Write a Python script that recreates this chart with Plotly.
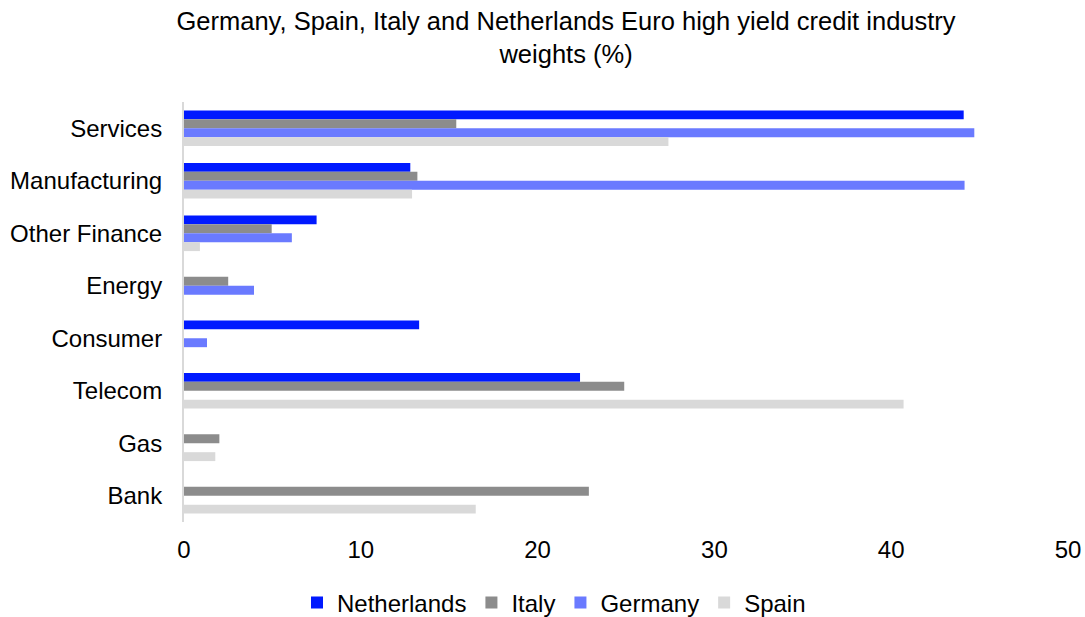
import plotly.graph_objects as go

categories = ["Services", "Manufacturing", "Other Finance", "Energy", "Consumer", "Telecom", "Gas", "Bank"]
netherlands = [44.1, 12.8, 7.5, None, 13.3, 22.4, None, None]
italy = [15.4, 13.2, 4.96, 2.5, None, 24.9, 2.0, 22.9]
germany = [44.7, 44.15, 6.1, 3.96, 1.3, None, None, None]
spain = [27.4, 12.9, 0.9, None, None, 40.7, 1.77, 16.5]
x_ticks = [0, 10, 20, 30, 40, 50]

series = [
    ("Netherlands", netherlands, "#0019FF"),
    ("Italy", italy, "#8C8C8C"),
    ("Germany", germany, "#6A7AFF"),
    ("Spain", spain, "#D9D9D9"),
]

fig = go.Figure()
for name, vals, color in series:
    fig.add_trace(go.Bar(
        y=categories, x=vals, name=name, orientation="h",
        marker=dict(color=color, line=dict(width=0)),
    ))

fig.update_layout(
    width=1085, height=617,
    paper_bgcolor="white", plot_bgcolor="white",
    font=dict(family="Liberation Sans, Arial, sans-serif", size=24, color="#000000"),
    title=dict(
        text="Germany, Spain, Italy and Netherlands Euro high yield credit industry<br>weights (%)",
        x=0.5217, xanchor="center", y=0.951, yanchor="top",
        font=dict(size=25.5),
    ),
    barmode="group", bargap=0.32, bargroupgap=0,
    margin=dict(l=184, r=17, t=102, b=95),
    showlegend=True,
    legend=dict(orientation="h", xref="container", x=0.5106, xanchor="center",
                yref="container", y=0.0227, yanchor="middle",
                font=dict(size=24), traceorder="normal", itemwidth=30),
    xaxis=dict(range=[0, 50], tickvals=x_ticks, showgrid=False, zeroline=False,
               showline=False, ticks="", ticklen=0, automargin=False, ticklabelstandoff=11),
    yaxis=dict(autorange="reversed", showgrid=False, showline=True, automargin=False,
               linecolor="#D9D9D9", linewidth=2, ticks="", ticklabelstandoff=15),
)

fig.write_html("out.html", config={"displayModeBar": False},
               post_script="document.body.style.margin='0';")
